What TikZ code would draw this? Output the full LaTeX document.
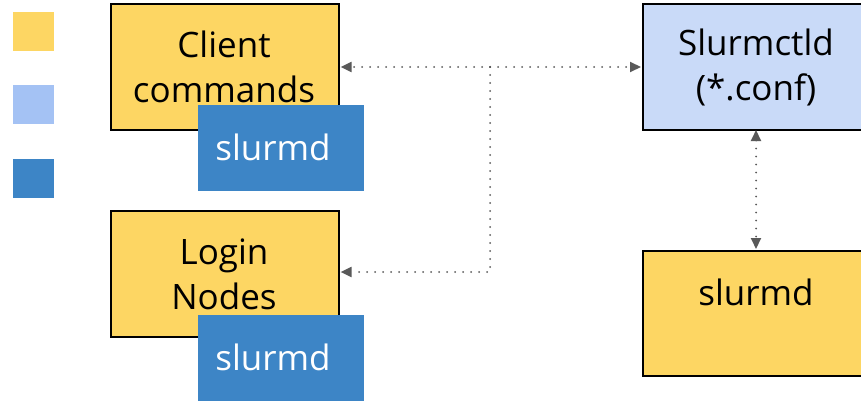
\documentclass[tikz,border=0pt]{standalone}
\usepackage{fontspec}
\setmainfont{Open Sans}
\usetikzlibrary{arrows.meta}
\definecolor{gyellow}{HTML}{FDD663}
\definecolor{glight}{HTML}{A4C2F4}
\definecolor{gpale}{HTML}{C9DAF8}
\definecolor{gdark}{HTML}{3D85C6}
\definecolor{ggray}{HTML}{595959}
\tikzset{
  box/.style={draw=black, line width=1.6pt, anchor=north west, inner sep=0pt},
  darkbox/.style={fill=gdark, anchor=north west, inner sep=0pt, minimum width=166pt, minimum height=86pt},
  legendsq/.style={anchor=north west, inner sep=0pt, minimum width=41pt, minimum height=39pt},
  conn/.style={draw=ggray, line width=2pt, line cap=round, dash pattern=on 0pt off 8pt},
  ahead/.tip={Triangle[length=11pt,width=10pt,line cap=butt,sep=0pt]},
  tip/.style={-{ahead[]}},
  lbl/.style={font=\fontsize{35}{45}\selectfont, inner sep=0pt, align=center},
}
\begin{document}
\begin{tikzpicture}[x=1pt,y=-1pt]
\useasboundingbox (0,0) rectangle (861,401);
\fill[white] (0,0) rectangle (861,401);
\node[legendsq, fill=gyellow] (l1) at (13,12) {};
\node[legendsq, fill=glight] (l2) at (13,85) {};
\node[legendsq, fill=gdark] (l3) at (13,159) {};

\node[box, fill=gyellow, minimum width=228pt, minimum height=126pt] (client) at (110,3) {};
\node[lbl] (clientt) at (224,67) {Client\\commands};
\node[darkbox] (sd1) at (198,105) {};
\node[lbl, text=white] (sd1t) at (273,147) {slurmd};

\node[box, fill=gyellow, minimum width=228pt, minimum height=126pt] (login) at (110,210) {};
\node[lbl] (logint) at (224,274) {Login\\Nodes};
\node[darkbox] (sd2) at (198,315) {};
\node[lbl, text=white] (sd2t) at (273,357) {slurmd};

\node[box, fill=gpale, minimum width=240pt, minimum height=126pt] (ctl) at (642,3) {};
\node[lbl] (ctlt) at (756,67) {Slurmctld\\(*.conf)};

\node[box, fill=gyellow, minimum width=240pt, minimum height=125pt] (sd3) at (642,250) {};
\node[lbl] (sd3t) at (756,292) {slurmd};

\coordinate (j) at (490,67);
\coordinate (jb) at (490,272);
\coordinate (ctlb) at (756,130);
\coordinate (sd3top) at (756,249);

\draw[conn, tip] (j) -- ([xshift=-1pt]ctl.west |- j);
\draw[conn, tip] (j) -- ([xshift=1pt]client.east |- j);
\draw[conn, tip] (j) -- (jb) -- ([xshift=1pt]login.east |- jb);
\draw[conn, {ahead[]}-{ahead[]}] (ctlb) -- (sd3top);
\end{tikzpicture}
\end{document}
